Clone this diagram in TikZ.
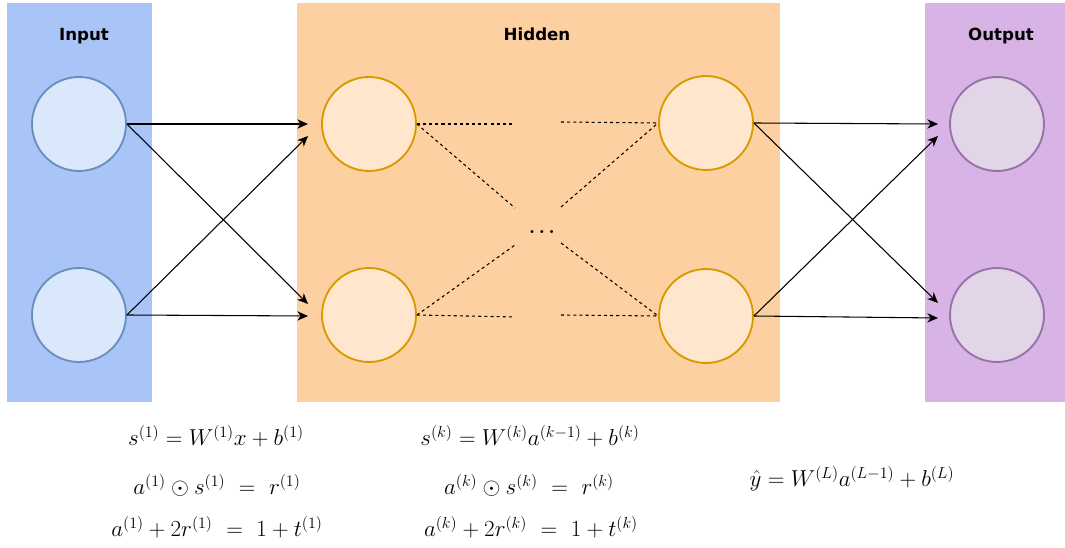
\documentclass[tikz,border=0pt]{standalone}
\usepackage{fontspec}
\newfontfamily\labelfont{DejaVu Sans}
\usetikzlibrary{arrows.meta}
\definecolor{inbg}{HTML}{A9C4F6}
\definecolor{hidbg}{HTML}{FDD0A2}
\definecolor{outbg}{HTML}{D8B3E6}
\definecolor{infill}{HTML}{DAE8FC}
\definecolor{indraw}{HTML}{6C8EBF}
\definecolor{hidfill}{HTML}{FFE6CC}
\definecolor{hiddraw}{HTML}{D79B00}
\definecolor{outfill}{HTML}{E1D5E7}
\definecolor{outdraw}{HTML}{9673A6}
\tikzset{
  title/.style={font=\labelfont\fontsize{12.5}{15}\selectfont\bfseries, text=black, anchor=base},
  neuron/.style={circle, minimum size=70.5pt, inner sep=0pt, line width=1.4pt},
  inneuron/.style={neuron, fill=infill, draw=indraw},
  hidneuron/.style={neuron, fill=hidfill, draw=hiddraw},
  outneuron/.style={neuron, fill=outfill, draw=outdraw},
  conn/.style={line width=0.8pt, -{Stealth[length=8pt,width=7pt,inset=2.5pt]}},
  dconn/.style={line width=0.8pt, dash pattern=on 2.3pt off 2.3pt},
  eq/.style={font=\fontsize{17.8}{21}\selectfont, inner sep=0pt, anchor=base}
}
\begin{document}
\begin{tikzpicture}[x=0.75pt,y=-0.75pt]
\useasboundingbox (0,0) rectangle (1065,548);
% panels
\fill[inbg] (7,3) rectangle (152,402);
\fill[hidbg] (297,3) rectangle (780,402);
\fill[outbg] (925,3) rectangle (1065,402);
\node[title] (tin) at (84,41) {Input};
\node[title] (thid) at (537,41) {Hidden};
\node[title] (tout) at (1001,41) {Output};
% neurons
\node[inneuron] (i1) at (79,124) {};
\node[inneuron] (i2) at (79,315) {};
\node[hidneuron] (h1) at (369,124) {};
\node[hidneuron] (h2) at (369,315) {};
\node[hidneuron] (h3) at (706,123) {};
\node[hidneuron] (h4) at (706,316) {};
\node[outneuron] (o1) at (997,124) {};
\node[outneuron] (o2) at (997,315) {};
% arrow endpoints
\coordinate (h1a) at (308,124);
\coordinate (h1b) at (308,136);
\coordinate (h2a) at (308,304);
\coordinate (h2b) at (308,316);
\coordinate (o1a) at (938,124);
\coordinate (o1b) at (938,136);
\coordinate (o2a) at (938,303);
\coordinate (o2b) at (938,318);
\draw[conn] (i1.east) -- (h1a);
\draw[conn] (i1.east) -- (h2a);
\draw[conn] (i2.east) -- (h1b);
\draw[conn] (i2.east) -- (h2b);
\draw[conn] (h3.east) -- (o1a);
\draw[conn] (h3.east) -- (o2a);
\draw[conn] (h4.east) -- (o1b);
\draw[conn] (h4.east) -- (o2b);
% dashed partial connections
\coordinate (d1) at (515,124);
\coordinate (d2) at (515,208);
\coordinate (d3) at (515,245);
\coordinate (d4) at (515,317);
\coordinate (d5) at (561,122);
\coordinate (d6) at (561,207);
\coordinate (d7) at (561,243);
\coordinate (d8) at (561,315);
\draw[dconn] (h1.east) -- (d1);
\draw[dconn] (h1.east) -- (d2);
\draw[dconn] (h2.east) -- (d3);
\draw[dconn] (h2.east) -- (d4);
\draw[dconn] (d5) -- (h3.west);
\draw[dconn] (d6) -- (h3.west);
\draw[dconn] (d7) -- (h4.west);
\draw[dconn] (d8) -- (h4.west);
\node[font=\fontsize{15}{17}\selectfont\boldmath, anchor=base, inner sep=0pt] (dots) at (542,234) {$\ldots$};
% equations
\node[eq] (e11) at (216,446) {$s^{(1)} = W^{(1)}x + b^{(1)}$};
\node[eq] (e12) at (217,495) {$a^{(1)} \odot s^{(1)} \ =\ r^{(1)}$};
\node[eq] (e13) at (217,537) {$a^{(1)} + 2r^{(1)} \ =\ 1 + t^{(1)}$};
\node[eq] (e21) at (530,446) {$s^{(k)} = W^{(k)}a^{(k-1)} + b^{(k)}$};
\node[eq] (e22) at (529,495) {$a^{(k)} \odot s^{(k)} \ =\ r^{(k)}$};
\node[eq] (e23) at (531,537) {$a^{(k)} + 2r^{(k)} \ =\ 1 + t^{(k)}$};
\node[eq] (e3) at (852,487) {$\hat{y} = W^{(L)}a^{(L-1)} + b^{(L)}$};
\end{tikzpicture}
\end{document}
